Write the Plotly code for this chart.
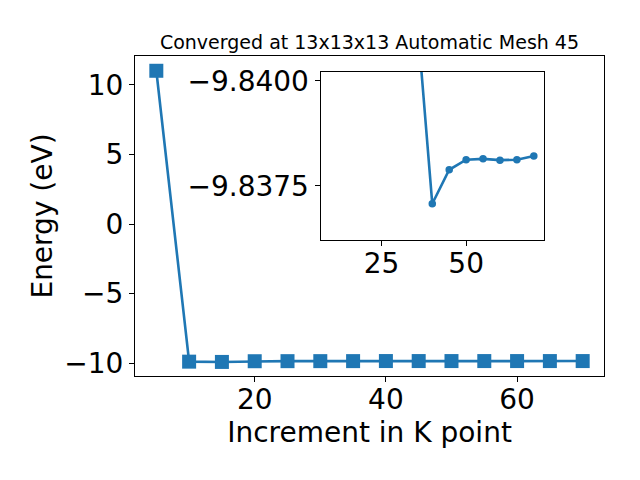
import plotly.graph_objects as go

# data
kpoints = [5, 10, 15, 20, 25, 30, 35, 40, 45, 50, 55, 60, 65, 70]
energy = [11.0, -9.88, -9.90, -9.85, -9.845, -9.843, -9.842,
          -9.83707, -9.83788, -9.83812, -9.83814, -9.83811, -9.83812, -9.83821]

main_xticks = [20, 40, 60]
main_yticks = [-10, -5, 0, 5, 10]
inset_xticks = [25, 50]
inset_yticks = [-9.8400, -9.8375]

title_text = "Converged at 13x13x13 Automatic Mesh 45"
xlabel = "Increment in K point"
ylabel = "Energy (eV)"

color = "#1f77b4"
font_family = "DejaVu Sans"
FS = 28
OFF = 8  # page body margin offset


def fmt(v, nd=0):
    s = f"{abs(v):.{nd}f}"
    return ("\u2212" + s) if v < 0 else s


fig = go.Figure()
fig.add_trace(go.Scatter(
    x=kpoints, y=energy, mode="lines+markers",
    line=dict(color=color, width=2.6),
    marker=dict(symbol="square", size=14, color=color),
    xaxis="x", yaxis="y", showlegend=False,
))
fig.add_trace(go.Scatter(
    x=kpoints[1:], y=energy[1:], mode="lines+markers",
    line=dict(color=color, width=2.6),
    marker=dict(symbol="circle", size=7.5, color=color),
    xaxis="x2", yaxis="y2", showlegend=False,
))

axis_common = dict(
    showline=True, mirror=True, linecolor="black", linewidth=1.1,
    ticks="outside", ticklen=5, tickwidth=1.1, tickcolor="black",
    showgrid=False, zeroline=False, automargin=False,
    tickfont=dict(family=font_family, size=FS, color="black"),
)

L, T = 135 - OFF, 56 - OFF
PW, PH = 469, 320

fig.update_layout(
    width=640, height=480,
    margin=dict(l=L, r=640 - L - PW, t=T, b=480 - T - PH, autoexpand=False),
    paper_bgcolor="white", plot_bgcolor="white",
    font=dict(family=font_family, color="black"),
    title=dict(text=title_text, x=0.5, xref="paper", xanchor="center",
               y=1 - (42 - OFF) / 480, yref="container", yanchor="middle",
               font=dict(family=font_family, size=19, color="black")),
    xaxis=dict(axis_common, domain=[0, 1], range=[1.75, 73.25],
               tickvals=main_xticks, ticktext=[fmt(v) for v in main_xticks],
               ticklabelstandoff=-7,
               title=dict(text=xlabel, standoff=7,
                          font=dict(family=font_family, size=FS, color="black")),
               anchor="y"),
    yaxis=dict(axis_common, domain=[0, 1], range=[-10.91, 12.06],
               tickvals=main_yticks, ticktext=[fmt(v) for v in main_yticks],
               title=dict(text=ylabel, standoff=3,
                          font=dict(family=font_family, size=FS, color="black")),
               anchor="x"),
    xaxis2=dict(axis_common, domain=[0.3957, 0.872], range=[7.0, 73.0],
                tickvals=inset_xticks, ticktext=[fmt(v) for v in inset_xticks],
                ticklabelstandoff=-7,
                anchor="y2"),
    yaxis2=dict(axis_common, domain=[0.4254, 0.950], range=[-9.83621, -9.84021],
                tickvals=inset_yticks, ticktext=[fmt(v, 4) for v in inset_yticks],
                anchor="x2"),
)

fig.write_html("out.html")
